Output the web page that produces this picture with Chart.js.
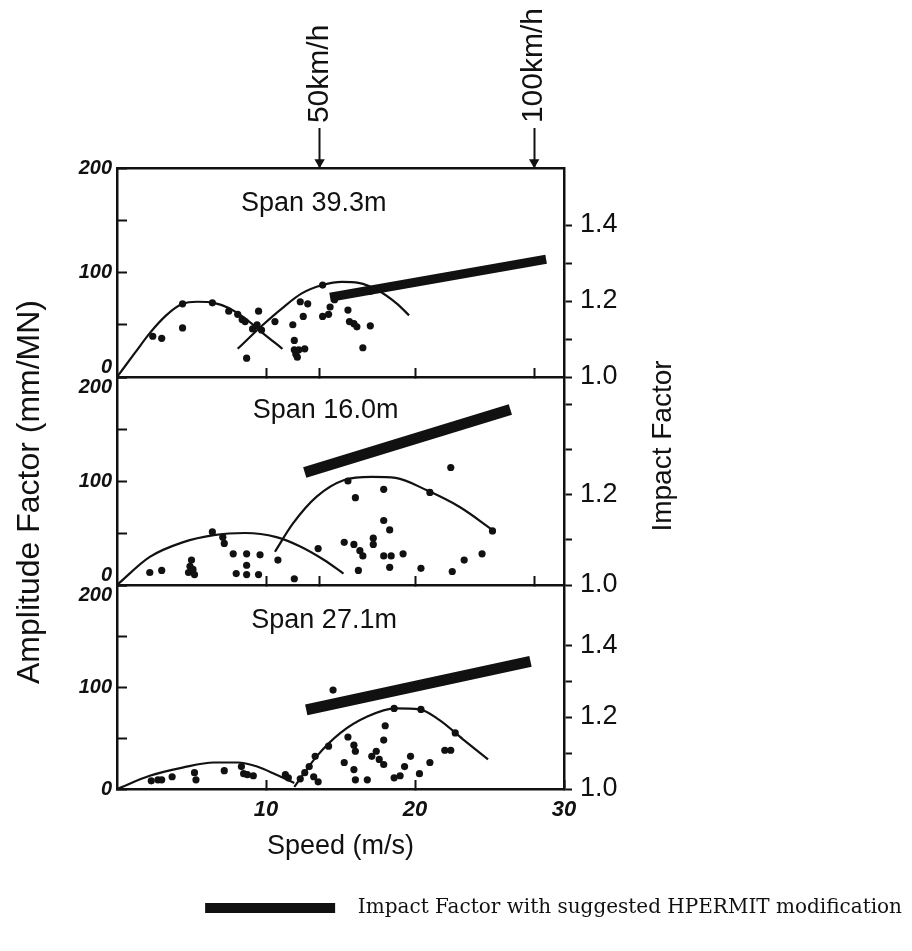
<!DOCTYPE html>
<html>
<head>
<meta charset="utf-8">
<script src="https://cdn.jsdelivr.net/npm/chart.js@4.4.1/dist/chart.umd.min.js"></script>
<style>
    html, body { margin: 0; padding: 0; background: #fff; }
    #figure { position: relative; width: 912px; height: 951px; }
    #figure canvas { position: absolute; left: 0; top: 0; }
</style>
</head>
<body>
<div id="figure">
    <canvas id="panel-top" width="912" height="951"></canvas>
    <canvas id="panel-mid" width="912" height="951"></canvas>
    <canvas id="panel-bot" width="912" height="951"></canvas>
</div>
<script>
// --- Values ---
// speed in m/s, amplitude factor in mm/MN, impact factor (dimensionless)

const speedMarkers = [13.6, 28.0];
const speedMarkerLabels = ['50km/h', '100km/h'];
const innerSpeedTicks = [10, 13.6, 20, 28.0];
const bottomSpeedTicks = [10, 20, 30];
const amplitudeTicks = [0, 50, 100, 150, 200];
const impactTicks = [1.0, 1.1, 1.2, 1.3, 1.4];
const legendText = 'Impact Factor with suggested HPERMIT modification';

// Span 39.3m
const span39ArcLow = [[0, 0], [1.2, 23], [2.2, 42], [3.3, 59], [4.4, 70], [5.4, 72], [6.5, 71], [7.5, 66], [8.6, 56], [9.7, 43], [11.1, 27]];
const span39ArcHigh = [[8.1, 27], [9.8, 50], [11.1, 66], [12.4, 80], [13.8, 88], [15.1, 91], [16.2, 90], [17.5, 83], [18.8, 70], [19.6, 59]];
const span39Points = [
    [2.4, 39], [3.0, 37], [4.4, 47], [4.4, 70], [6.4, 71], [7.5, 63], [8.1, 60], [8.4, 55], [8.6, 53],
    [9.5, 63], [9.1, 46], [9.4, 50], [9.7, 45], [8.7, 18], [10.6, 53], [11.8, 50], [11.9, 35], [11.9, 26],
    [12.0, 22], [12.1, 19], [12.2, 26], [12.6, 27], [12.3, 72], [12.8, 70], [12.5, 58], [13.8, 88],
    [13.8, 58], [14.2, 60], [14.3, 67], [14.6, 74], [15.5, 64], [15.6, 53], [15.9, 51], [16.1, 48],
    [17.0, 49], [16.5, 28], [17.0, 82]
];
const span39Impact = [[14.3, 1.21], [28.8, 1.31]];

// Span 16.0m
const span16ArcLow = [[0, 0], [2.2, 27], [4.4, 41], [6.5, 48], [8.6, 50], [10.7, 46], [12.3, 37], [13.9, 24], [15.2, 11]];
const span16ArcHigh = [[10.6, 32], [11.8, 59], [13.4, 85], [15.25, 101], [17.1, 104], [18.7, 103], [20.8, 91], [23.0, 75], [25.2, 53]];
const span16Points = [
    [2.2, 12], [3.0, 14], [4.8, 12], [4.9, 18], [5.0, 24], [5.1, 15], [5.2, 10], [6.4, 51], [7.1, 46],
    [7.2, 40], [7.8, 30], [8.7, 30], [9.6, 29], [8.0, 11], [8.7, 10], [8.7, 19], [9.5, 10], [10.8, 24],
    [11.9, 6], [13.5, 35], [15.25, 41], [15.5, 100], [16.0, 84], [16.2, 14], [15.9, 39], [16.3, 33],
    [16.5, 28], [17.2, 45], [17.2, 39], [17.9, 92], [17.9, 62], [18.3, 53], [17.9, 28], [18.4, 28],
    [19.2, 30], [18.3, 17], [20.4, 16], [21.0, 89], [22.4, 113], [22.5, 13], [23.3, 24], [24.5, 30], [25.2, 52]
];
const span16Impact = [[12.6, 1.25], [26.4, 1.39]];

// Span 27.1m
const span27ArcLow = [[0, 0], [2.2, 13], [4.4, 21], [6.5, 26], [8.1, 26], [9.4, 22], [10.7, 14], [11.9, 6]];
const span27ArcHigh = [[11.9, 2], [13.4, 32], [15.0, 55], [16.8, 71], [18.7, 79], [20.3, 78], [21.6, 68], [23.2, 49], [24.9, 29]];
const span27Points = [
    [2.3, 8], [2.75, 9], [3.0, 9], [3.7, 12], [5.2, 16], [5.3, 9], [7.2, 18], [8.35, 22], [8.5, 15],
    [8.75, 14], [9.15, 13], [11.3, 14], [11.5, 11], [12.3, 10], [12.6, 16], [12.9, 22], [13.3, 32],
    [13.2, 12], [13.5, 7], [14.2, 42], [14.5, 97], [15.25, 26], [15.5, 51], [15.9, 43], [16.0, 37],
    [15.9, 19], [16.0, 9], [16.8, 9], [17.1, 32], [17.4, 37], [17.6, 29], [17.9, 24], [18.0, 62],
    [17.9, 48], [18.6, 79], [18.6, 11], [19.0, 13], [19.3, 22], [19.7, 32], [20.3, 15], [20.4, 78],
    [21.0, 26], [22.0, 38], [22.4, 38], [22.7, 55]
];
const span27Impact = [[12.7, 1.22], [27.75, 1.355]];

// --- Styling ---
const ink = '#111';
const sans = "'Liberation Sans', Arial, Helvetica, sans-serif";
const tickFont = { family: sans, size: 20, style: 'italic', weight: 'bold', lineHeight: '20px' };
const rightFont = { family: sans, size: 27 };

const toXY = arr => arr.map(([x, y]) => ({ x, y }));

// free text placed through the panel scales (or page pixels for the side titles)
const figureText = {
    id: 'figureText',
    afterDraw(chart, args, opts) {
        const ctx = chart.ctx;
        const sx = chart.scales.x, sy = chart.scales.y;
        (opts.items || []).forEach(item => {
            const px = item.px !== undefined ? item.px : sx.getPixelForValue(item.x);
            const py = item.py !== undefined ? item.py : sy.getPixelForValue(item.y);
            ctx.save();
            ctx.fillStyle = ink;
            ctx.font = item.font;
            ctx.textAlign = item.align || 'center';
            ctx.textBaseline = 'middle';
            ctx.translate(px, py);
            ctx.rotate(item.rotate || 0);
            ctx.fillText(item.text, 0, 0);
            ctx.restore();
        });
    }
};

function amplitudeLabel(value, topStyle, zeroStyle) {
    if (value === 100) return '100';
    if (value === 200) return topStyle === 'below' ? ['', '200'] : '200';
    if (value === 0) return zeroStyle === 'above' ? ['0', ''] : '0';
    return '';
}

function buildPanel(canvasId, p) {
    const datasets = [
        { type: 'line', label: '', data: toXY(p.arcLow), borderColor: ink, borderWidth: 2.2, pointRadius: 0, cubicInterpolationMode: 'monotone', yAxisID: 'y' },
        { type: 'line', label: '', data: toXY(p.arcHigh), borderColor: ink, borderWidth: 2.2, pointRadius: 0, cubicInterpolationMode: 'monotone', yAxisID: 'y' },
        { type: 'scatter', label: '', data: toXY(p.points), backgroundColor: ink, borderWidth: 0, pointRadius: 3.6, yAxisID: 'y' },
        { type: 'line', label: legendText, data: toXY(p.impact), borderColor: ink, backgroundColor: ink, borderWidth: p.barWidth, borderCapStyle: 'butt', pointRadius: 0, yAxisID: 'yImpact' }
    ];

    if (p.topAxis) {
        // arrow heads of the 50 / 100 km/h markers, sitting on the top border
        datasets.push({
            type: 'scatter', label: '', data: speedMarkers.map(v => ({ x: v, y: 205.5 })),
            pointStyle: 'triangle', rotation: 180, pointRadius: 6, backgroundColor: ink, borderWidth: 0,
            clip: false, yAxisID: 'y'
        });
    }

    const scales = {
        x: {
            type: 'linear', position: 'bottom', min: 0, max: 30,
            afterBuildTicks: s => { s.ticks = p.xTicks.map(v => ({ value: v })); },
            afterFit: s => { s.height = p.xAxisHeight; },
            grid: { drawOnChartArea: false, color: ink, tickLength: -9, tickWidth: 2 },
            border: { color: ink, width: 2.5 },
            ticks: { display: p.showXLabels, color: ink, font: { family: sans, size: 22, style: 'italic', weight: 'bold' }, padding: 17, maxRotation: 0, autoSkip: false, callback: v => String(v) },
            title: p.showXLabels
                ? { display: true, text: 'Speed (m/s)', color: ink, font: { family: sans, size: 27 }, padding: { top: 0, bottom: 25 } }
                : { display: false }
        },
        y: {
            type: 'linear', position: 'left', min: 0, max: 200,
            afterBuildTicks: s => { s.ticks = amplitudeTicks.map(v => ({ value: v })); },
            afterFit: s => { s.width = 117; },
            grid: { drawOnChartArea: false, color: ink, tickLength: -10, tickWidth: 2 },
            border: { color: ink, width: 2.5 },
            ticks: { color: ink, font: tickFont, padding: 15, autoSkip: false, callback: v => amplitudeLabel(v, p.topLabel, p.zeroLabel) }
        },
        yImpact: {
            type: 'linear', position: 'right', min: 1.0, max: p.impactMax,
            afterBuildTicks: s => { s.ticks = impactTicks.map(v => ({ value: v })); },
            afterFit: s => { s.width = 348; },
            grid: { drawOnChartArea: false, color: ink, tickLength: 8, tickWidth: 2 },
            border: { color: ink, width: 2.5 },
            ticks: {
                color: ink, font: rightFont, padding: 8, autoSkip: false,
                callback: v => p.impactLabels.some(l => Math.abs(l - v) < 1e-6) ? v.toFixed(1) : ''
            }
        }
    };

    if (p.topAxis) {
        // top border; its tick marks are the shafts of the speed arrows
        scales.xTop = {
            type: 'linear', position: 'top', min: 0, max: 30,
            afterBuildTicks: s => { s.ticks = speedMarkers.map(v => ({ value: v })); },
            afterFit: s => { s.height = p.topAxisHeight; },
            grid: { drawOnChartArea: false, color: ink, tickLength: 40, tickWidth: 2 },
            border: { color: ink, width: 2.5 },
            ticks: { display: false }
        };
    }

    const legend = p.legend ? {
        display: true, position: 'bottom', align: 'end', maxHeight: 40,
        labels: {
            boxWidth: 130, boxHeight: 10, padding: 10, color: ink,
            font: { family: "'DejaVu Serif', 'Liberation Serif', serif", size: 20 },
            generateLabels: chart => Chart.defaults.plugins.legend.labels.generateLabels(chart)
                .filter(item => item.text === legendText)
                .map(item => Object.assign(item, { text: '  ' + item.text, lineWidth: 0, fillStyle: ink }))
        }
    } : { display: false };

    return new Chart(document.getElementById(canvasId), {
        type: 'line',
        data: { datasets },
        plugins: [figureText],
        options: {
            responsive: false,
            animation: false,
            events: [],
            devicePixelRatio: 1,
            layout: { padding: { top: p.padTop, bottom: p.padBottom, left: 0, right: 0 } },
            scales,
            plugins: {
                legend,
                tooltip: { enabled: false },
                figureText: { items: p.text }
            }
        }
    });
}

const spanFont = `27px ${sans}`;

buildPanel('panel-top', {
    arcLow: span39ArcLow, arcHigh: span39ArcHigh, points: span39Points, impact: span39Impact,
    barWidth: 9, impactMax: 1.55, impactLabels: [1.0, 1.2, 1.4],
    xTicks: innerSpeedTicks, showXLabels: false, xAxisHeight: 951 - 377,
    topAxis: true, topAxisHeight: 168, padTop: 0, padBottom: 0,
    topLabel: 'center', zeroLabel: 'above', legend: false,
    text: [
        { text: 'Span 39.3m', x: 13.2, y: 166, font: spanFont },
        ...speedMarkers.map((v, i) => ({ text: speedMarkerLabels[i], x: v, y: 243, font: `30px ${sans}`, align: 'left', rotate: -Math.PI / 2 }))
    ]
});

buildPanel('panel-mid', {
    arcLow: span16ArcLow, arcHigh: span16ArcHigh, points: span16Points, impact: span16Impact,
    barWidth: 11, impactMax: 1.462, impactLabels: [1.0, 1.2],
    xTicks: innerSpeedTicks, showXLabels: false, xAxisHeight: 951 - 585,
    topAxis: false, padTop: 377, padBottom: 0,
    topLabel: 'below', zeroLabel: 'above', legend: false,
    text: [
        { text: 'Span 16.0m', x: 14.0, y: 168, font: spanFont },
        { text: 'Amplitude Factor (mm/MN)', px: 30, py: 492, font: `32px ${sans}`, rotate: -Math.PI / 2 },
        { text: 'Impact Factor', px: 663, py: 446, font: `28px ${sans}`, rotate: -Math.PI / 2 }
    ]
});

buildPanel('panel-bot', {
    arcLow: span27ArcLow, arcHigh: span27ArcHigh, points: span27Points, impact: span27Impact,
    barWidth: 11, impactMax: 1.567, impactLabels: [1.0, 1.2, 1.4],
    xTicks: bottomSpeedTicks, showXLabels: true, xAxisHeight: 951 - 23 - 40 - 789,
    topAxis: false, padTop: 585, padBottom: 23,
    topLabel: 'below', zeroLabel: 'center', legend: true,
    text: [
        { text: 'Span 27.1m', x: 13.9, y: 165, font: spanFont }
    ]
});
</script>
</body>
</html>
